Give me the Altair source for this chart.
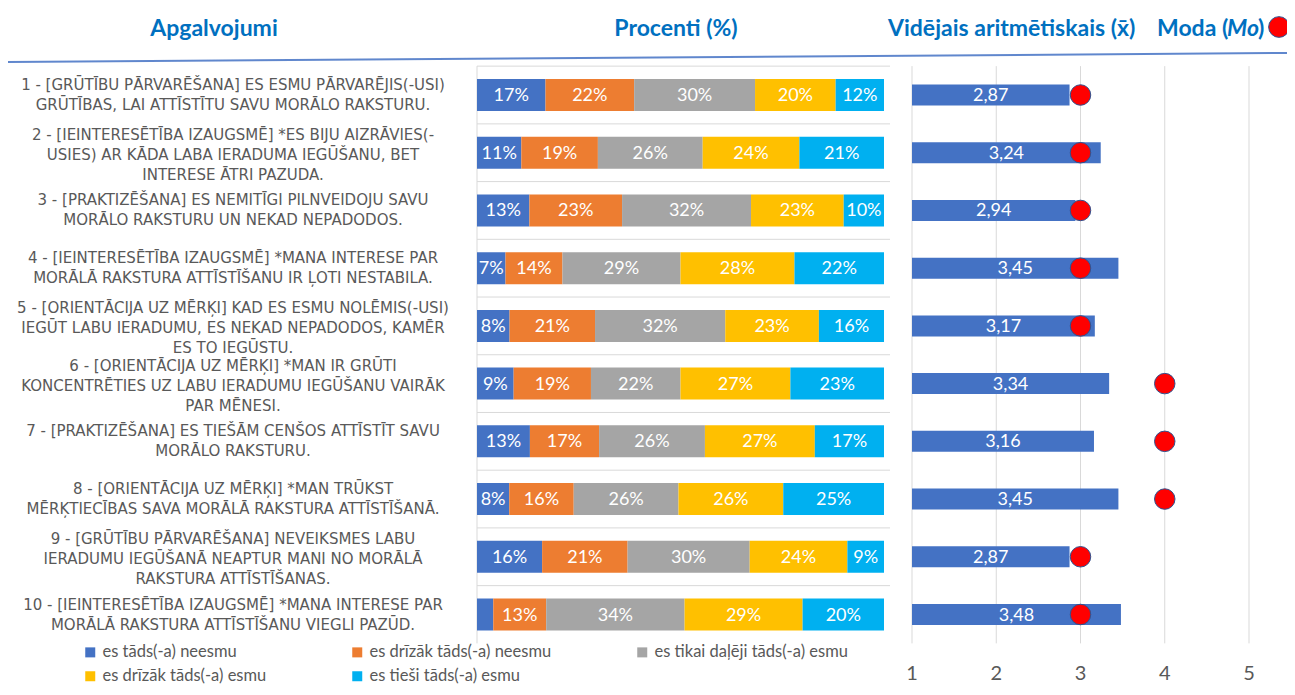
import altair as alt
import pandas as pd

# ---------------- data ----------------
rows = list(range(1, 11))
statements = [
    "1 - [GRŪTĪBU PĀRVARĒŠANA] ES ESMU PĀRVARĒJIS(-USI)\nGRŪTĪBAS, LAI ATTĪSTĪTU SAVU MORĀLO RAKSTURU.",
    "2 - [IEINTERESĒTĪBA IZAUGSMĒ] *ES BIJU AIZRĀVIES(-\nUSIES) AR KĀDA LABA IERADUMA IEGŪŠANU, BET\nINTERESE ĀTRI PAZUDA.",
    "3 - [PRAKTIZĒŠANA] ES NEMITĪGI PILNVEIDOJU SAVU\nMORĀLO RAKSTURU UN NEKAD NEPADODOS.",
    "4 - [IEINTERESĒTĪBA IZAUGSMĒ] *MANA INTERESE PAR\nMORĀLĀ RAKSTURA ATTĪSTĪŠANU IR ĻOTI NESTABILA.",
    "5 - [ORIENTĀCIJA UZ MĒRĶI] KAD ES ESMU NOLĒMIS(-USI)\nIEGŪT LABU IERADUMU, ES NEKAD NEPADODOS, KAMĒR\nES TO IEGŪSTU.",
    "6 - [ORIENTĀCIJA UZ MĒRĶI] *MAN IR GRŪTI\nKONCENTRĒTIES UZ LABU IERADUMU IEGŪŠANU VAIRĀK\nPAR MĒNESI.",
    "7 - [PRAKTIZĒŠANA] ES TIEŠĀM CENŠOS ATTĪSTĪT SAVU\nMORĀLO RAKSTURU.",
    "8 - [ORIENTĀCIJA UZ MĒRĶI] *MAN TRŪKST\nMĒRĶTIECĪBAS SAVA MORĀLĀ RAKSTURA ATTĪSTĪŠANĀ.",
    "9 - [GRŪTĪBU PĀRVARĒŠANA] NEVEIKSMES LABU\nIERADUMU IEGŪŠANĀ NEAPTUR MANI NO MORĀLĀ\nRAKSTURA ATTĪSTĪŠANAS.",
    "10 - [IEINTERESĒTĪBA IZAUGSMĒ] *MANA INTERESE PAR\nMORĀLĀ RAKSTURA ATTĪSTĪŠANU VIEGLI PAZŪD.",
]

categories = [
    "es tāds(-a) neesmu",
    "es drīzāk tāds(-a) neesmu",
    "es tikai daļēji tāds(-a) esmu",
    "es drīzāk tāds(-a) esmu",
    "es tieši tāds(-a) esmu",
]
colors = ["#4472C4", "#ED7D31", "#A5A5A5", "#FFC000", "#00B0F0"]

pct_not = [17, 11, 13, 7, 8, 9, 13, 8, 16, 4]
pct_rather_not = [22, 19, 23, 14, 21, 19, 17, 16, 21, 13]
pct_partly = [30, 26, 32, 29, 32, 22, 26, 26, 30, 34]
pct_rather = [20, 24, 23, 28, 23, 27, 27, 26, 24, 29]
pct_exactly = [12, 21, 10, 22, 16, 23, 17, 25, 9, 20]

means = [2.87, 3.24, 2.94, 3.45, 3.17, 3.34, 3.16, 3.45, 2.87, 3.48]
modes = [3, 3, 3, 3, 3, 4, 4, 4, 3, 3]
mean_ticks = [1, 2, 3, 4, 5]

# ---------------- tables ----------------
series = [pct_not, pct_rather_not, pct_partly, pct_rather, pct_exactly]
long_rows = []
for ci, (cat, vals) in enumerate(zip(categories, series)):
    for r, v in zip(rows, vals):
        long_rows.append({"row": r, "cat": cat, "order": ci, "pct": v})
df_pct = pd.DataFrame(long_rows)
df_lab = pd.DataFrame({"row": rows, "label": statements})
df_lab["n"] = df_lab["label"].str.count("\n") + 1
df_mean = pd.DataFrame({"row": rows, "mean": means, "mode": modes})
df_ticks = pd.DataFrame({"tick": mean_ticks})
df_sep = pd.DataFrame({"b": [r - 0.5 for r in rows]})

# ---------------- scales ----------------
W, H = 1279, 679
yscale = alt.Scale(domain=[1, 10], range=[87, 606.5], nice=False, zero=False, padding=0)
xpct = alt.Scale(domain=[0, 1], range=[469, 876], nice=False, zero=False, padding=0)
xmean = alt.Scale(domain=[1, 5], range=[904, 1241], nice=False, zero=False, padding=0)

GRID = "#D9D9D9"
TXT = "#595959"
HEAD = "#0070C0"
FONT = "Lato"

one = alt.Data(values=[{}])

# ---------------- layers ----------------
header_line = alt.Chart(one).mark_rule(color="#4472C4", strokeWidth=2, opacity=0.85).encode(
    x=alt.value(0), x2=alt.value(W), y=alt.value(54), y2=alt.value(45)
)

def head(text, x, align="center", italic=False):
    return alt.Chart(one).mark_text(
        text=text, font=FONT, fontSize=23, fontWeight="bold", color=HEAD,
        align=align, baseline="middle", fontStyle="italic" if italic else "normal",
    ).encode(x=alt.value(x), y=alt.value(21))

h1 = head("Apgalvojumi", 206)
h2 = head("Procenti (%)", 668)
h3 = head("Vidējais aritmētiskais (x\u0304)", 880, align="left")
h4 = head("Moda (", 1149, align="left")
h5 = head("Mo", 1219, align="left", italic=True)
h6 = head(")", 1250, align="left")
h_dot = alt.Chart(one).mark_circle(size=430, color="#FF0000", opacity=1, stroke="#2F528F", strokeWidth=1).encode(
    x=alt.value(1271), y=alt.value(19)
)

def label_layer(n, dy):
    return alt.Chart(df_lab).transform_filter(f"datum.n == {n}").mark_text(
        font="DejaVu Sans", fontSize=15, color=TXT, align="center", baseline="middle",
        lineBreak="\n", lineHeight=20, dy=dy,
    ).encode(
        x=alt.value(225),
        y=alt.Y("row:Q", scale=yscale, axis=None),
        text="label:N",
    )

labels2 = label_layer(2, -10)
labels3 = label_layer(3, -18)

sep = alt.Chart(df_sep).mark_rule(color=GRID, strokeWidth=1).encode(
    x=alt.value(469), x2=alt.value(882),
    y=alt.Y("b:Q", scale=yscale, axis=None),
)
left_axis = alt.Chart(one).mark_rule(color=GRID, strokeWidth=1).encode(
    x=alt.value(469),
    y=alt.Y(datum=0.5, scale=yscale, axis=None),
    y2=alt.Y2(datum=10.5),
)

stack_base = alt.Chart(df_pct).transform_stack(
    stack="pct", groupby=["row"], as_=["x0", "x1"], offset="normalize",
    sort=[alt.SortField("order", order="ascending")],
)
bars = stack_base.mark_bar(orient="horizontal", size=32).encode(
    x=alt.X("x0:Q", scale=xpct, axis=None),
    x2="x1:Q",
    y=alt.Y("row:Q", scale=yscale, axis=None),
    color=alt.Color(
        "cat:N",
        scale=alt.Scale(domain=categories, range=colors),
        legend=alt.Legend(
            title=None, orient="none", legendX=74, legendY=636, direction="horizontal",
            columns=3, symbolType="square", symbolSize=100, symbolStrokeWidth=0,
            labelFont=FONT, labelFontSize=16.5, labelColor=TXT, labelLimit=400,
            columnPadding=82, rowPadding=7, gridAlign="each", padding=0,
        ),
    ),
)
bar_text = stack_base.transform_calculate(
    mid="(datum.x0 + datum.x1) / 2", txt="datum.pct + '%'"
).transform_filter("datum.pct >= 5").mark_text(
    font=FONT, fontSize=18, color="white", align="center", baseline="middle", dy=1
).encode(
    x=alt.X("mid:Q", scale=xpct, axis=None),
    y=alt.Y("row:Q", scale=yscale, axis=None),
    text="txt:N",
)

vgrid = alt.Chart(df_ticks).mark_rule(color=GRID, strokeWidth=1).encode(
    x=alt.X("tick:Q", scale=xmean, axis=None),
    y=alt.Y(datum=0.5, scale=yscale, axis=None),
    y2=alt.Y2(datum=10.5),
)
vtick_labels = alt.Chart(df_ticks).mark_text(
    font=FONT, fontSize=20, color=TXT, align="center", baseline="middle"
).encode(
    x=alt.X("tick:Q", scale=xmean, axis=None),
    y=alt.value(666),
    text="tick:N",
)
mean_bars = alt.Chart(df_mean).mark_bar(orient="horizontal", size=21, color="#4472C4").encode(
    x=alt.X("mean:Q", scale=xmean, axis=None),
    x2=alt.X2(datum=1),
    y=alt.Y("row:Q", scale=yscale, axis=None),
)
mean_text = alt.Chart(df_mean).transform_calculate(
    mid="(1 + datum.mean) / 2",
    txt="replace(format(datum.mean, '.2f'), '.', ',')",
).mark_text(font=FONT, fontSize=18, color="white", align="center", baseline="middle", dy=1).encode(
    x=alt.X("mid:Q", scale=xmean, axis=None),
    y=alt.Y("row:Q", scale=yscale, axis=None),
    text="txt:N",
)
mode_dots = alt.Chart(df_mean).mark_circle(size=420, color="#FF0000", opacity=1, stroke="#2F528F", strokeWidth=1).encode(
    x=alt.X("mode:Q", scale=xmean, axis=None),
    y=alt.Y("row:Q", scale=yscale, axis=None),
)

chart = alt.layer(
    header_line, h1, h2, h3, h4, h5, h6, h_dot,
    labels2, labels3, sep, left_axis, bars, bar_text,
    vgrid, vtick_labels, mean_bars, mean_text, mode_dots,
).resolve_scale(x="independent").properties(
    width=W, height=H, autosize=alt.AutoSizeParams(type="none"), padding=0,
    background="white",
).configure_view(stroke=None)

chart.save("out.html", embed_options={"renderer": "svg", "actions": False})
